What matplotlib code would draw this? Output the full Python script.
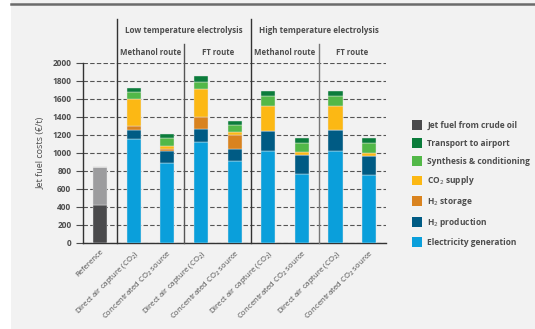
import matplotlib.pyplot as plt
import matplotlib.patches as mpatches
from matplotlib.lines import Line2D
import numpy as np

plt.rcParams['font.family'] = ['Open Sans', 'DejaVu Sans']

categories = ['Reference',
              'Direct air capture (CO$_2$)', 'Concentrated CO$_2$ source',
              'Direct air capture (CO$_2$)', 'Concentrated CO$_2$ source',
              'Direct air capture (CO$_2$)', 'Concentrated CO$_2$ source',
              'Direct air capture (CO$_2$)', 'Concentrated CO$_2$ source']

# stacked cost components (EUR/t), bottom to top
jet_fuel_crude = [415, 0, 0, 0, 0, 0, 0, 0, 0]
reference_other = [425, 0, 0, 0, 0, 0, 0, 0, 0]
electricity = [0, 1148, 889, 1118, 904, 1022, 763, 1022, 748]
h2_production = [0, 104, 133, 141, 140, 215, 211, 226, 215]
h2_storage = [0, 44, 22, 141, 156, 4, 4, 4, 4]
co2_supply = [0, 296, 34, 310, 26, 281, 29, 270, 29]
synthesis = [0, 82, 85, 78, 85, 108, 97, 104, 108]
transport = [0, 48, 48, 63, 44, 55, 59, 59, 59]

series = [
    (jet_fuel_crude, '#4a4a4c', 'Jet fuel from crude oil'),
    (reference_other, '#9c9c9e', None),
    (electricity, '#0a9fdb', 'Electricity generation'),
    (h2_production, '#005b84', 'H$_2$ production'),
    (h2_storage, '#d9831f', 'H$_2$ storage'),
    (co2_supply, '#fcb814', 'CO$_2$ supply'),
    (synthesis, '#52b848', 'Synthesis & conditioning'),
    (transport, '#0b7c3b', 'Transport to airport'),
]
legend_order = ['Jet fuel from crude oil', 'Transport to airport', 'Synthesis & conditioning',
                'CO$_2$ supply', 'H$_2$ storage', 'H$_2$ production', 'Electricity generation']

text_col = '#4d4d4d'

fig = plt.figure(figsize=(5.35, 3.29), dpi=100, facecolor='white')
fig.patches.append(mpatches.Rectangle((11 / 535, 0), 1, 1, transform=fig.transFigure,
                                      facecolor='#f2f2f2', edgecolor='none', zorder=-10))
fig.add_artist(Line2D([11 / 535, 1], [1 - 4 / 329, 1 - 4 / 329], color='#6b6b6b', linewidth=1.8))

ax = fig.add_axes([83.3 / 535, 1 - 242.7 / 329, (386 - 83.3) / 535, 180 / 329])
ax.set_facecolor('none')

x = np.arange(len(categories))
bottom = np.zeros(len(categories))
handles = {}
for vals, col, lab in series:
    vals = np.array(vals, dtype=float)
    ax.bar(x, vals, width=0.42, bottom=bottom, color=col, edgecolor='#e8e8e8',
           linewidth=0.3, zorder=3)
    if lab:
        handles[lab] = mpatches.Patch(facecolor=col, edgecolor='none')
    bottom += vals

ax.set_xlim(-0.5, 8.5)
ax.set_ylim(0, 2000)
ax.set_yticks(np.arange(0, 2001, 200))
ax.tick_params(axis='y', labelsize=6, colors=text_col, length=5, width=0.8, direction='out')
ax.grid(axis='y', linestyle=(0, (4, 2)), color='#555555', linewidth=0.8, zorder=0)
for t in ax.get_yticklabels():
    t.set_fontweight('bold')
ax.set_xticks(x)
ax.set_xticklabels(categories, rotation=45, ha='right', rotation_mode='anchor',
                   fontsize=5.6, color=text_col)
ax.tick_params(axis='x', length=0, pad=4)
for s in ['top', 'right']:
    ax.spines[s].set_visible(False)
for s in ['left', 'bottom']:
    ax.spines[s].set_color('#333333')
    ax.spines[s].set_linewidth(1.0)
ax.set_ylabel('Jet fuel costs (€/t)', fontsize=6.5, color=text_col, labelpad=5)

# group separators
trans = ax.get_xaxis_transform()
for xs, top, col in [(0.5, 1.243, '#333333'), (4.5, 1.243, '#333333'),
                     (2.5, 1.104, '#555555'), (6.5, 1.104, '#777777')]:
    ax.add_line(Line2D([xs, xs], [0, top], transform=trans, color=col,
                       linewidth=1.0, clip_on=False, zorder=4))

for xc, txt in [(2.5, 'Low temperature electrolysis'), (6.5, 'High temperature electrolysis')]:
    ax.text(xc, 1.178, txt, transform=trans, ha='center', va='center',
            fontsize=5.8, fontweight='bold', color=text_col)
for xc, txt in [(1.5, 'Methanol route'), (3.5, 'FT route'),
                (5.5, 'Methanol route'), (7.5, 'FT route')]:
    ax.text(xc, 1.059, txt, transform=trans, ha='center', va='center',
            fontsize=5.6, fontweight='bold', color=text_col)

leg = fig.legend([handles[k] for k in legend_order], legend_order,
                 loc='upper left', bbox_to_anchor=(409 / 535, 1 - 117 / 329),
                 frameon=False, fontsize=6, labelcolor=text_col,
                 handlelength=1.2, handleheight=1.4, handletextpad=0.6,
                 labelspacing=1.0, borderaxespad=0)
for t in leg.get_texts():
    t.set_fontweight('bold')

fig.savefig('out.png', dpi=100, facecolor=fig.get_facecolor())
